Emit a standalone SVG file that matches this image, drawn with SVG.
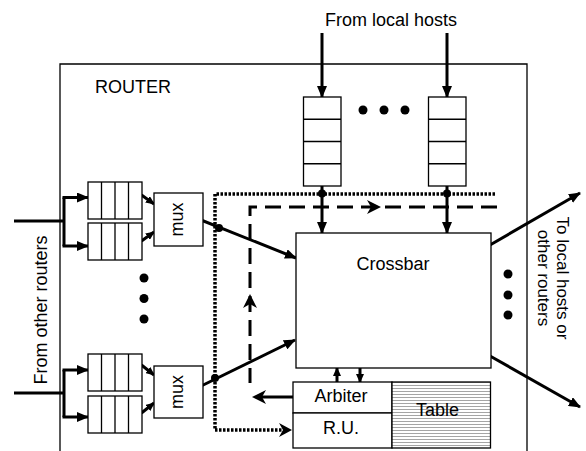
<svg xmlns="http://www.w3.org/2000/svg" width="586" height="451" viewBox="0 0 586 451">
<defs>
<style>
.t{font-family:"Liberation Sans",Arial,Helvetica,sans-serif;font-size:18px;fill:#000}
.box{fill:#fff;stroke:#000;stroke-width:1.3}
.ln{fill:none;stroke:#000;stroke-width:1.3}
.thick{fill:none;stroke:#000;stroke-width:3}
.dotted{fill:none;stroke:#000;stroke-width:3.5;stroke-dasharray:2.5 1.5}
.dashed{fill:none;stroke:#000;stroke-width:3;stroke-dasharray:16 8}
.hd{fill:#000;stroke:none}
</style>
<marker id="ah" viewBox="0 0 12 10" refX="11" refY="5" markerWidth="12" markerHeight="10" markerUnits="userSpaceOnUse" orient="auto"><path d="M0,0 L12,5 L0,10 Z"/></marker>
<marker id="ahs" viewBox="0 0 9 8" refX="8" refY="4" markerWidth="9" markerHeight="8" markerUnits="userSpaceOnUse" orient="auto"><path d="M0,0 L9,4 L0,8 Z"/></marker>
<pattern id="hatch" width="6" height="3" patternUnits="userSpaceOnUse"><rect width="6" height="3" fill="#fff"/><line x1="0" y1="1.5" x2="6" y2="1.5" stroke="#a5a5a5" stroke-width="1"/></pattern>
</defs>
<rect width="586" height="451" fill="#fff"/>

<g id="router">
<path class="ln" d="M60,451 V64 H527 V451"/>
<text class="t" x="133" y="93" text-anchor="middle">ROUTER</text>
</g>

<g id="labels">
<text class="t" x="391" y="26" text-anchor="middle">From local hosts</text>
<text class="t" transform="translate(47,310) rotate(-90)" text-anchor="middle">From other routers</text>
<g transform="translate(557,278) rotate(90)">
<text class="t" x="0" y="0" text-anchor="middle" style="font-size:17px">To local hosts or</text>
<text class="t" x="0" y="19" text-anchor="middle" style="font-size:17px">other routers</text>
</g>
</g>

<g id="connectors">
<path class="dotted" d="M495,194 H215 V430 H285"/>
<path class="hd" d="M292,430 L279,423 L283,430 L279,437 Z"/>
<path class="dashed" d="M497,207 H250 V383"/>
<path class="hd" d="M381,207 L367,200 L371,207 L367,214 Z"/>
<path class="hd" d="M250,294 L257,308 L250,304 L243,308 Z"/>
<path class="thick" d="M293,397 H258"/>
<path class="hd" d="M252,397 L266,390 L262,397 L266,404 Z"/>

<line class="thick" x1="322" y1="33" x2="322" y2="97" marker-end="url(#ah)"/>
<line class="thick" x1="447" y1="33" x2="447" y2="97" marker-end="url(#ah)"/>
<line class="thick" x1="322" y1="186" x2="322" y2="233" marker-end="url(#ah)"/>
<line class="thick" x1="447" y1="186" x2="447" y2="233" marker-end="url(#ah)"/>

<path class="thick" d="M14,221 H64 M64,197.5 V246"/>
<line class="thick" x1="62.5" y1="197.5" x2="88" y2="197.5" marker-end="url(#ah)"/>
<line class="thick" x1="62.5" y1="246" x2="88" y2="246" marker-end="url(#ah)"/>
<path class="thick" d="M14,393 H64 M64,370 V417"/>
<line class="thick" x1="62.5" y1="370" x2="88" y2="370" marker-end="url(#ah)"/>
<line class="thick" x1="62.5" y1="417" x2="88" y2="417" marker-end="url(#ah)"/>

<line class="thick" x1="141.5" y1="195" x2="154" y2="204" marker-end="url(#ahs)"/>
<line class="thick" x1="141.5" y1="241" x2="154" y2="232" marker-end="url(#ahs)"/>
<line class="thick" x1="141.5" y1="365" x2="154" y2="375" marker-end="url(#ahs)"/>
<line class="thick" x1="141.5" y1="413" x2="154" y2="403" marker-end="url(#ahs)"/>

<line class="thick" x1="196" y1="218" x2="296" y2="258" marker-end="url(#ah)"/>
<line class="thick" x1="193" y1="390" x2="295" y2="340" marker-end="url(#ah)"/>

<line class="thick" x1="490" y1="245" x2="580" y2="193" marker-end="url(#ah)"/>
<line class="thick" x1="490" y1="356" x2="580" y2="407" marker-end="url(#ah)"/>

<line class="thick" x1="337" y1="382" x2="337" y2="368" marker-end="url(#ahs)"/>
<line class="thick" x1="360" y1="368" x2="360" y2="382" marker-end="url(#ahs)"/>

<circle cx="322" cy="193.5" r="4"/>
<circle cx="447" cy="193.5" r="4"/>
<circle cx="219" cy="228" r="4"/>
<circle cx="215" cy="378" r="4"/>
</g>

<g id="hq1">
<rect class="box" x="303.5" y="97" width="37.5" height="89"/>
<path class="ln" d="M303.5,119.25 H341 M303.5,141.5 H341 M303.5,163.75 H341"/>
</g>
<g id="hq2">
<rect class="box" x="428.5" y="97" width="37.5" height="89"/>
<path class="ln" d="M428.5,119.25 H466 M428.5,141.5 H466 M428.5,163.75 H466"/>
</g>
<g id="hdots">
<circle cx="363" cy="110" r="4.5"/>
<circle cx="384" cy="110" r="4.5"/>
<circle cx="405" cy="110" r="4.5"/>
</g>

<g id="q1">
<rect class="box" x="88" y="182" width="54" height="37"/>
<path class="ln" d="M101.5,182 V219 M115,182 V219 M128.5,182 V219"/>
</g>
<g id="q2">
<rect class="box" x="88" y="223" width="54" height="37"/>
<path class="ln" d="M101.5,223 V260 M115,223 V260 M128.5,223 V260"/>
</g>
<g id="q3">
<rect class="box" x="88" y="354" width="54" height="37"/>
<path class="ln" d="M101.5,354 V391 M115,354 V391 M128.5,354 V391"/>
</g>
<g id="q4">
<rect class="box" x="88" y="396" width="54" height="37"/>
<path class="ln" d="M101.5,396 V433 M115,396 V433 M128.5,396 V433"/>
</g>
<g id="ldots">
<circle cx="144" cy="278" r="4.5"/>
<circle cx="144" cy="298.5" r="4.5"/>
<circle cx="144" cy="319" r="4.5"/>
</g>

<g id="mux1">
<rect class="box" x="154" y="193" width="49" height="53"/>
<text class="t" transform="translate(183,219.5) rotate(-90)" text-anchor="middle">mux</text>
</g>
<g id="mux2">
<rect class="box" x="154" y="366" width="49" height="52"/>
<text class="t" transform="translate(183,392) rotate(-90)" text-anchor="middle">mux</text>
</g>

<g id="crossbar">
<rect class="box" x="296" y="233" width="195" height="135"/>
<text class="t" x="393" y="270" text-anchor="middle">Crossbar</text>
</g>
<g id="rdots">
<circle cx="508" cy="274" r="4.5"/>
<circle cx="508" cy="295" r="4.5"/>
<circle cx="508" cy="315" r="4.5"/>
</g>

<g id="arbiter">
<rect class="box" x="293" y="382" width="99" height="31"/>
<text class="t" x="341" y="402" text-anchor="middle">Arbiter</text>
</g>
<g id="ru">
<rect class="box" x="293" y="413" width="99" height="35"/>
<text class="t" x="341" y="434" text-anchor="middle">R.U.</text>
</g>
<g id="table">
<rect x="392" y="382" width="98.5" height="66" fill="url(#hatch)" stroke="#000" stroke-width="1.3"/>
<text class="t" x="437.5" y="416" text-anchor="middle">Table</text>
</g>
</svg>
